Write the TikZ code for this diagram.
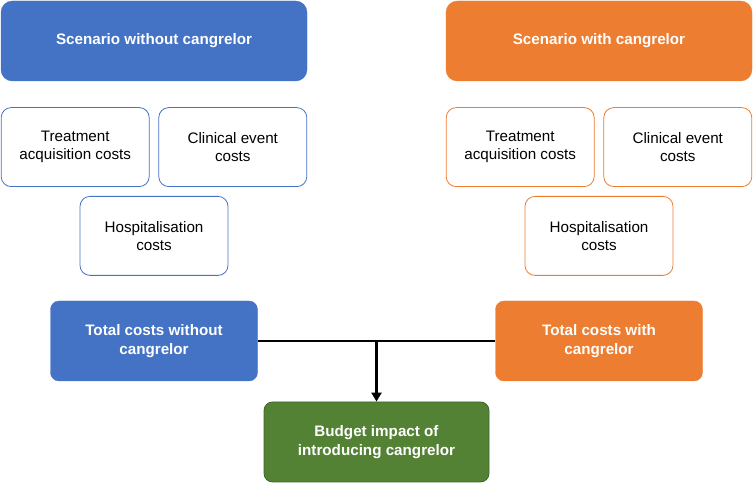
\documentclass[tikz,border=0pt]{standalone}
\usepackage{fontspec}
\setmainfont{Liberation Sans}
\usetikzlibrary{positioning, arrows.meta}
\definecolor{scenblue}{RGB}{68, 114, 196}
\definecolor{scenorange}{RGB}{237, 125, 49}
\definecolor{budgetgreen}{RGB}{84, 130, 53}
\definecolor{budgetedge}{RGB}{62, 100, 40}

\begin{document}
\begin{tikzpicture}[
  x=1pt, y=1pt,
  font=\fontsize{15.2}{18.5}\selectfont,
  node distance=9pt,
  scen/.style={
    rounded corners=4mm, align=center, text=white,
    minimum width=306pt, minimum height=80pt,
    font=\fontsize{15.2}{18.5}\selectfont\bfseries
  },
  cost/.style={
    draw, line width=0.8pt, rounded corners=3.5mm, align=center, fill=white,
    minimum width=148pt, minimum height=79pt, inner sep=2pt
  },
  total/.style={scen, minimum width=207pt, rounded corners=3mm}
]
\useasboundingbox (0,0) rectangle (753,484);
% scenario without
\node[scen, fill=scenblue, draw=scenblue] (sw) at (154,443) {Scenario without cangrelor};
\node[cost, draw=scenblue, below right=26pt and 0pt of sw.south west] (sw1) {Treatment\\acquisition costs};
\node[cost, draw=scenblue, below left=26pt and 0pt of sw.south east] (sw2) {Clinical event\\costs};
\node[cost, draw=scenblue, below=of sw1.south -| sw.south] (sw3) {Hospitalisation\\costs};
\node[total, fill=scenblue, draw=scenblue, below=25pt of sw3] (tw) {Total costs without\\cangrelor};
% scenario with
\node[scen, fill=scenorange, draw=scenorange] (sc) at (599,443) {Scenario with cangrelor};
\node[cost, draw=scenorange, below right=26pt and 0pt of sc.south west] (sc1) {Treatment\\acquisition costs};
\node[cost, draw=scenorange, below left=26pt and 0pt of sc.south east] (sc2) {Clinical event\\costs};
\node[cost, draw=scenorange, below=of sc1.south -| sc.south] (sc3) {Hospitalisation\\costs};
\node[total, fill=scenorange, draw=scenorange, below=25pt of sc3] (tc) {Total costs with\\cangrelor};
% budget impact
\node[total, fill=budgetgreen, draw=budgetedge, line width=0.8pt, minimum width=225pt] (bi) at (376.5,42) {Budget impact of\\introducing cangrelor};
\draw[line width=2.5pt] (tw.east) -- (tc.west);
\draw[line width=2.5pt, -{Triangle[length=9pt, width=10pt]}] (tw.east -| bi.north) -- (bi.north);
\end{tikzpicture}
\end{document}
